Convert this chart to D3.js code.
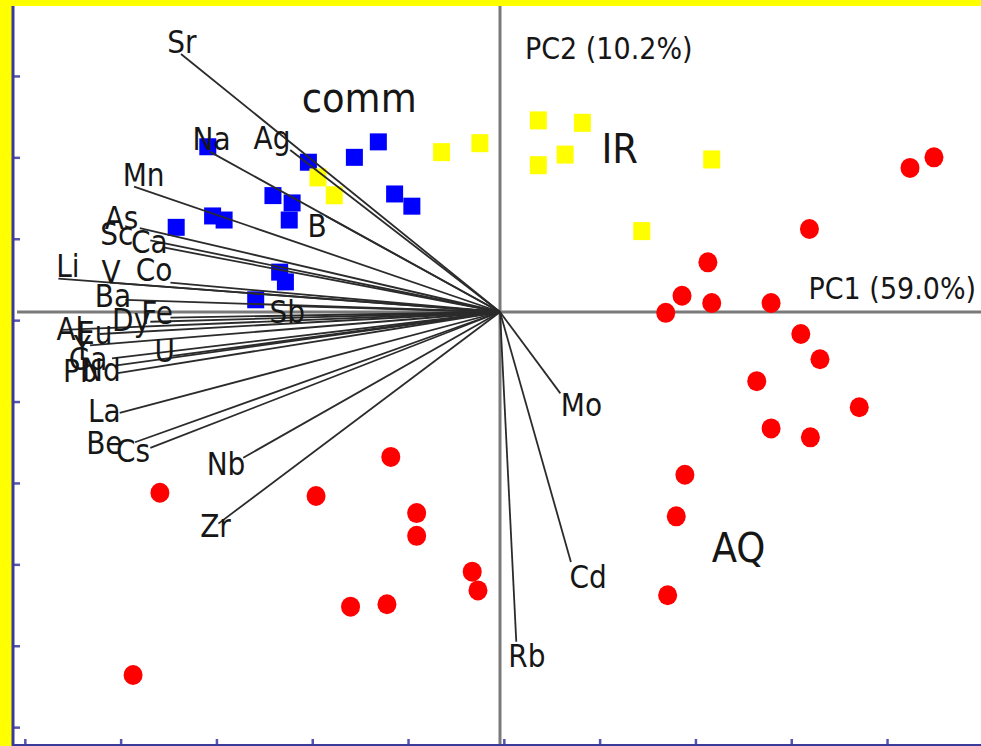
<!DOCTYPE html>
<html>
<head>
  <meta charset="UTF-8">
  <title>PCA biplot</title>
  <script src="https://d3js.org/d3.v7.min.js"></script>
  <style>
    body {
      margin: 0;
      padding: 0;
      background: #ffff00;
    }
    svg { display: block; }
    text { font-family: "DejaVu Sans", Verdana, sans-serif; fill: #161616; }
  </style>
</head>
<body>
<svg></svg>

<script>
// sample scores (PC1, PC2) per group
const aqX = [4.28, 4.53, 3.23, 2.17, 1.90, 2.21, 2.83, 1.73, 3.14, 3.34, 2.68, 3.75, 2.83, 3.24,
             1.93, 1.84, 1.75, -1.14, -3.55, -1.92, -0.87, -0.87, -0.29, -0.23, -1.56, -1.18, -3.83];
const aqY = [1.77, 1.90, 1.02, 0.61, 0.20, 0.11, 0.11, -0.01, -0.27, -0.58, -0.85, -1.17, -1.43, -1.54,
             -2.00, -2.51, -3.48, -1.78, -2.22, -2.26, -2.47, -2.75, -3.19, -3.42, -3.62, -3.59, -4.46];

const irX = [-0.61, -0.21, 0.40, 0.86, 0.40, 0.68, 2.21, 1.48, -1.90, -1.73];
const irY = [1.97, 2.08, 2.36, 2.33, 1.81, 1.94, 1.88, 1.00, 1.66, 1.44];

const commX = [-3.05, -2.00, -1.52, -1.27, -2.37, -2.17, -2.20, -1.10, -0.92, -3.00, -2.88, -3.38, -2.30, -2.24, -2.55];
const commY = [2.03, 1.84, 1.90, 2.09, 1.43, 1.34, 1.13, 1.45, 1.30, 1.18, 1.13, 1.04, 0.49, 0.37, 0.15];

// variable loadings
const elements = ["Sr", "Na", "Ag", "Mn", "B", "As", "Sc", "Ca", "Li", "V", "Co", "Ba", "Fe", "Dy", "Al",
                  "Eu", "Y", "U", "Ga", "Pb", "Nd", "La", "Be", "Cs", "Nb", "Zr", "Sb", "Mo", "Cd", "Rb"];
const loadX = [-3.33, -3.03, -2.19, -3.82, -1.82, -3.76, -3.65, -3.50, -4.61, -4.07, -3.44, -3.91, -3.44, -3.65, -4.57,
               -4.18, -4.28, -3.42, -4.05, -4.02, -3.99, -3.97, -3.81, -3.65, -2.68, -2.94, -2.09, 0.63, 0.74, 0.17];
const loadY = [3.17, 1.97, 1.99, 1.54, 1.18, 1.03, 0.88, 0.79, 0.41, 0.36, 0.36, 0.15, -0.07, -0.12, -0.22,
               -0.27, -0.41, -0.54, -0.57, -0.66, -0.75, -1.24, -1.60, -1.67, -1.79, -2.60, 0.07, -1.00, -3.07, -4.05];
// label anchors for the loadings
const labelX = [-3.32, -3.01, -2.38, -3.72, -1.91, -3.95, -4.00, -3.66, -4.51, -4.06, -3.61, -4.04, -3.58, -3.85, -4.49,
                -4.23, -4.36, -3.50, -4.30, -4.38, -4.16, -4.13, -4.13, -3.83, -2.86, -2.97, -2.22, 0.85, 0.92, 0.28];
const labelY = [3.32, 2.13, 2.14, 1.68, 1.06, 1.15, 0.96, 0.86, 0.57, 0.49, 0.52, 0.20, -0.01, -0.10, -0.21,
                -0.26, -0.43, -0.48, -0.58, -0.72, -0.71, -1.22, -1.61, -1.71, -1.87, -2.63, 0.00, -1.14, -3.26, -4.23];

const groupNames = ["comm", "IR", "AQ"];
const groupX = [-1.47, 1.25, 2.49];
const groupY = [2.63, 2.01, -2.90];

const xTicks = [-4.96, -3.96, -2.96, -1.96, -0.96, 0.04, 1.04, 2.04, 3.04, 4.04];
const yTicks = [2.9, 1.9, 0.9, -0.1, -1.1, -2.1, -3.1, -4.1, -5.1];

const width = 981, height = 746;
const plotLeft = 14, plotTop = 6, plotBottom = 745;
const stretch = 1.12; // the source text is a little taller than wide

const svg = d3.select("svg").attr("width", width).attr("height", height);

const x = d3.scaleLinear().domain([-5, 5]).range([21, 979]);
const y = d3.scaleLinear().domain([-5, 5]).range([719, -95]);

// plot background
svg.append("rect")
  .attr("x", plotLeft).attr("y", plotTop)
  .attr("width", width - plotLeft).attr("height", plotBottom - plotTop)
  .attr("fill", "white");

// zero lines
svg.append("line")
  .attr("x1", 17).attr("x2", width)
  .attr("y1", y(0)).attr("y2", y(0))
  .attr("stroke", "#7a7a7a").attr("stroke-width", 3);
svg.append("line")
  .attr("x1", x(0)).attr("x2", x(0))
  .attr("y1", plotTop).attr("y2", plotBottom)
  .attr("stroke", "#7a7a7a").attr("stroke-width", 3);

// frame axes
let yAxis = svg.append("g")
  .attr("transform", `translate(${plotLeft},0)`)
  .call(d3.axisRight(y).tickValues(yTicks).tickSize(6).tickFormat(""));
yAxis.select(".domain").remove();
yAxis.selectAll("line").attr("stroke", "#5555b0").attr("stroke-width", 2.5);

let xAxis = svg.append("g")
  .attr("transform", `translate(0,${plotBottom})`)
  .call(d3.axisTop(x).tickValues(xTicks).tickSize(6).tickFormat(""));
xAxis.select(".domain").remove();
xAxis.selectAll("line").attr("stroke", "#5555b0").attr("stroke-width", 2.5);

svg.append("line")
  .attr("x1", plotLeft - 1).attr("x2", plotLeft - 1)
  .attr("y1", plotTop).attr("y2", height)
  .attr("stroke", "#3b3b9c").attr("stroke-width", 3);
svg.append("line")
  .attr("x1", plotLeft).attr("x2", width)
  .attr("y1", plotBottom).attr("y2", plotBottom)
  .attr("stroke", "#3b3b9c").attr("stroke-width", 2);

// samples
const sq = 17;
svg.append("g").selectAll("rect")
  .data(d3.range(commX.length))
  .join("rect")
  .attr("x", i => x(commX[i]) - sq / 2)
  .attr("y", i => y(commY[i]) - sq / 2)
  .attr("width", sq).attr("height", sq)
  .attr("fill", "#0000ff");

svg.append("g").selectAll("rect")
  .data(d3.range(irX.length))
  .join("rect")
  .attr("x", i => x(irX[i]) - sq / 2)
  .attr("y", i => y(irY[i]) - sq / 2)
  .attr("width", sq).attr("height", sq + 1)
  .attr("fill", "#ffff00");

svg.append("g").selectAll("ellipse")
  .data(d3.range(aqX.length))
  .join("ellipse")
  .attr("cx", i => x(aqX[i]))
  .attr("cy", i => y(aqY[i]))
  .attr("rx", 9.5).attr("ry", 10)
  .attr("fill", "#ff0000");

// loading vectors
svg.append("g").selectAll("line")
  .data(d3.range(elements.length))
  .join("line")
  .attr("x1", x(0)).attr("y1", y(0))
  .attr("x2", i => x(loadX[i]))
  .attr("y2", i => y(loadY[i]))
  .attr("stroke", "#2b2b2b")
  .attr("stroke-width", 1.8);

svg.append("g").selectAll("text")
  .data(d3.range(elements.length))
  .join("text")
  .attr("transform", i => `translate(${x(labelX[i])},${y(labelY[i])}) scale(1,${stretch})`)
  .attr("text-anchor", "middle")
  .attr("dominant-baseline", "central")
  .style("font-size", "28px")
  .text(i => elements[i]);

// group labels
svg.append("g").selectAll("text")
  .data(d3.range(groupNames.length))
  .join("text")
  .attr("transform", i => `translate(${x(groupX[i])},${y(groupY[i])}) scale(1,${stretch})`)
  .attr("text-anchor", "middle")
  .attr("dominant-baseline", "central")
  .style("font-size", "37px")
  .text(i => groupNames[i]);

// axis titles
svg.append("text")
  .attr("transform", `translate(${x(0.26)},${y(3.24)}) scale(1,${stretch})`)
  .attr("dominant-baseline", "central")
  .style("font-size", "27px")
  .text("PC2 (10.2%)");
svg.append("text")
  .attr("transform", `translate(${x(3.22)},${y(0.29)}) scale(1,${stretch})`)
  .attr("dominant-baseline", "central")
  .style("font-size", "27px")
  .text("PC1 (59.0%)");
</script>
</body>
</html>
